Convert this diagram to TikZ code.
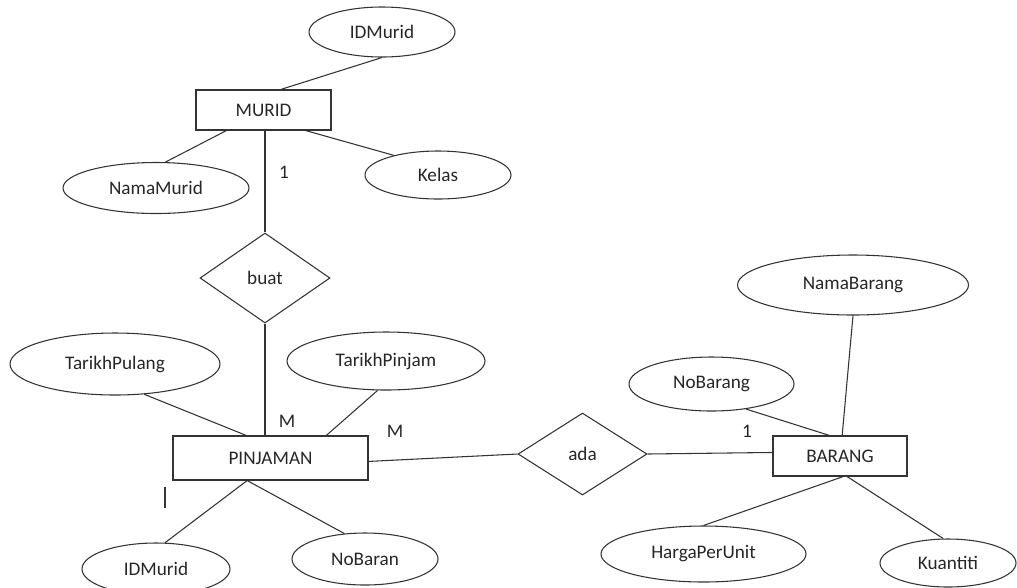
\documentclass[tikz,border=0pt]{standalone}
\usepackage{fontspec}
\setmainfont{Carlito}
\usetikzlibrary{shapes.geometric}
\begin{document}
\begin{tikzpicture}[x=0.75pt,y=-0.75pt,
  every node/.style={font=\fontsize{14.4}{17}\selectfont, text=black!85},
  line/.style={draw=black!80, line width=0.8pt},
  entity/.style 2 args={rectangle, line, inner sep=0pt,
    minimum width=#1*0.75pt, minimum height=#2*0.75pt},
  attr/.style 2 args={ellipse, line, inner sep=0pt,
    minimum width=#1*0.75pt, minimum height=#2*0.75pt},
  rel/.style n args={3}{diamond, line, inner sep=0pt, aspect=#3,
    minimum width=#1*0.75pt, minimum height=#2*0.75pt},
  card/.style={inner sep=0pt}]
\useasboundingbox (0,0) rectangle (1017,587);

% entities
\node[entity={135}{40}] (murid) at (263.5,110) {MURID};
\node[entity={195}{44}] (pinj) at (270.5,458) {PINJAMAN};
\node[entity={134}{40}] (barang) at (840,456) {BARANG};

% relationships
\node[rel={130}{90}{1.44}] (buat) at (265,278) {buat};
\node[rel={129}{82}{1.57}] (ada) at (582.5,454) {ada};

% attributes of MURID
\node[attr={146}{50}] (idm) at (382,32) {IDMurid};
\node[attr={186}{51}] (nm) at (156,188) {NamaMurid};
\node[attr={146}{48}] (kelas) at (438,175) {Kelas};

% attributes of PINJAMAN
\node[attr={210}{62}] (tp) at (115,364) {TarikhPulang};
\node[attr={198}{58}] (tpj) at (386,361) {TarikhPinjam};
\node[attr={148}{52}] (idm2) at (156,569) {IDMurid};
\node[attr={146}{52}] (nob) at (365,559) {NoBaran};

% attributes of BARANG
\node[attr={231}{60}] (nb) at (853,285) {NamaBarang};
\node[attr={165}{54}] (nbo) at (711.5,384) {NoBarang};
\node[attr={205}{56}] (hpu) at (703.5,554) {HargaPerUnit};
\node[attr={136}{48}] (kt) at (948,563) {Kuantiti};

% cardinalities
\node[card] (c1) at (284,172) {1};
\node[card] (cm1) at (287,421) {M};
\node[card] (cm2) at (395,431) {M};
\node[card] (c2) at (747,431) {1};

% connectors
\draw[line] (idm.south) -- (murid.50);
\draw[line] (nm.70) -- (murid.209);
\draw[line] (kelas.156) -- (murid.334);
\draw[line] (buat.north) -- (buat.north |- murid.south);
\draw[line] (buat.south) -- (buat.south |- pinj.north);
\draw[line] (tp.314) -- (pinj.137);
\draw[line] (tpj.254) -- (pinj.22);
\draw[line] (pinj.224) -- (idm2.71);
\draw[line] (pinj.224) -- (nob.129);
\draw[line] (pinj.358) -- (ada.west);
\draw[line] (ada.east) -- (barang.177);
\draw[line] (nb.south) -- (barang.84);
\draw[line] (nbo.324) -- (barang.117);
\draw[line] (barang.279) -- (hpu.north);
\draw[line] (barang.289) -- (kt.101);

% short vertical stroke below PINJAMAN
\coordinate (tickA) at (165,487);
\coordinate (tickB) at (165,508);
\draw[line] (tickA) -- (tickB);
\end{tikzpicture}
\end{document}
